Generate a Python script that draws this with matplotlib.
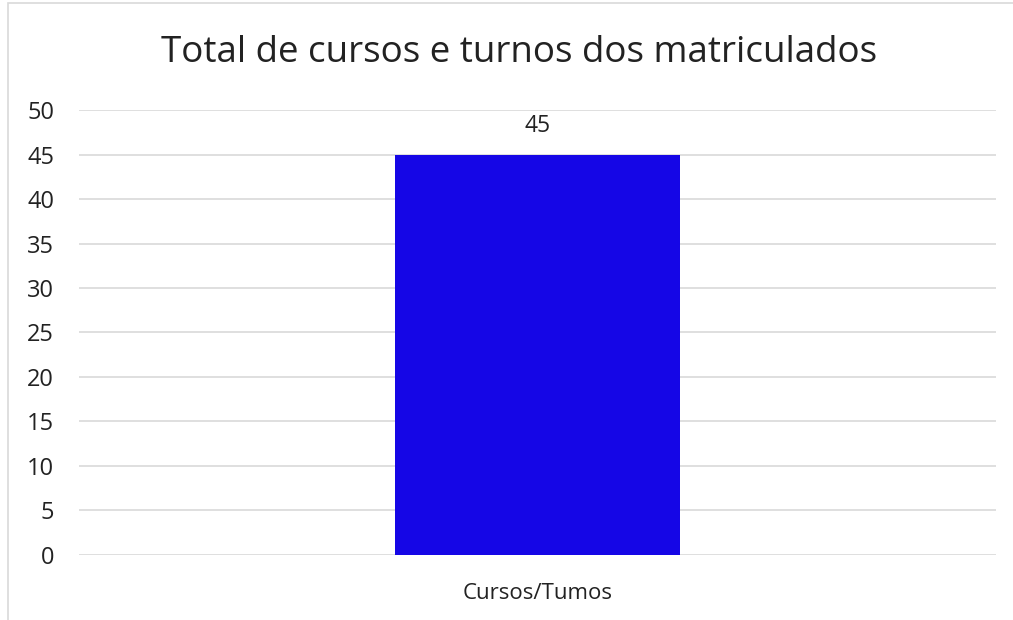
import matplotlib.pyplot as plt
from matplotlib.patches import Rectangle

plt.rcParams['font.family'] = ['Open Sans', 'DejaVu Sans']

categorias = ['Cursos/Tumos']
valores = [45]
yticks = list(range(0, 55, 5))

fig = plt.figure(figsize=(10.13, 6.2), dpi=100)
ax = fig.add_axes([0.078, 0.105, 0.905, 0.7175])

# moldura cinza do grafico
fig.patches.append(Rectangle((8 / 1013, -0.1), 1.2, 1.1 - 3 / 620,
                             transform=fig.transFigure, fill=False,
                             edgecolor='#D9D9D9', linewidth=1.2))

barras = ax.bar(categorias, valores, width=0.311, color='#1506E6', zorder=3)
ax.bar_label(barras, labels=[str(v) for v in valores], padding=12,
             fontsize=16.5, color='#222222')

ax.set_xlim(-0.5, 0.5)
ax.set_ylim(0, 50)
ax.set_yticks(yticks)
ax.grid(axis='y', color='#D9D9D9', linewidth=1.2, zorder=0)
for s in ax.spines.values():
    s.set_visible(False)
ax.tick_params(axis='both', length=0, labelsize=17, colors='#222222')
ax.tick_params(axis='y', pad=18)
ax.tick_params(axis='x', pad=20, labelsize=16)

fig.text(0.512, 0.915, 'Total de cursos e turnos dos matriculados',
         ha='center', va='center', fontsize=26.5, color='#222222')

fig.savefig('out.png', dpi=100)
